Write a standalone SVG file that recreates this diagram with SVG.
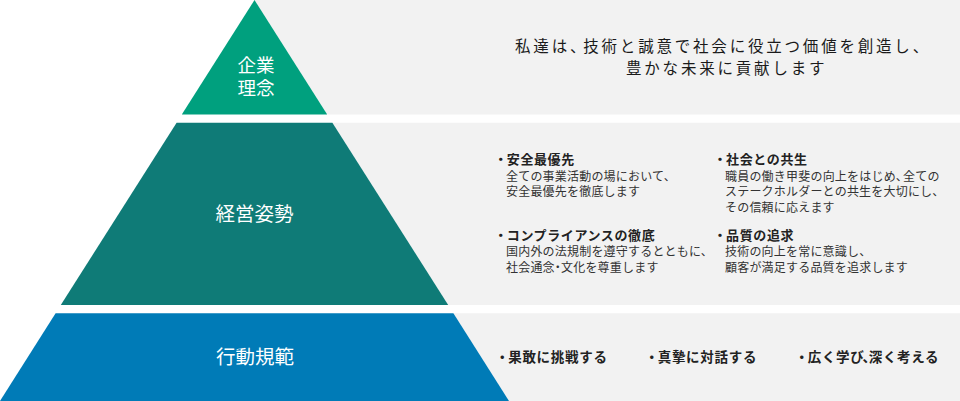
<svg xmlns="http://www.w3.org/2000/svg" width="960" height="401" viewBox="0 0 960 401">
<style>
text{font-family:"Noto Sans CJK JP","Noto Sans",sans-serif;}
.band{fill:#f2f2f2;}
.lbl{fill:#ffffff;font-size:19.5px;text-anchor:middle;}
.lbl2{fill:#ffffff;font-size:18.5px;text-anchor:middle;}
.lead{fill:#1a1a1a;font-size:15.5px;letter-spacing:2.8px;}
.hd{fill:#222222;font-size:13px;font-weight:700;letter-spacing:0.6px;}
.bd{fill:#333333;font-size:12px;letter-spacing:0.2px;}
.act{fill:#222222;font-size:13.5px;font-weight:700;letter-spacing:0.7px;}
</style>
<rect width="960" height="401" fill="#ffffff"/>
<g id="bands">
<polygon class="band" points="254.5,0 960,0 960,114.5 327.2,114.5"/>
<polygon class="band" points="332.4,122.7 960,122.7 960,305 448.2,305"/>
<polygon class="band" points="453.4,313.3 960,313.3 960,401 509,401"/>
</g>
<g id="node-rinen">
<polygon points="254.5,0 327.2,114.5 181.8,114.5" fill="#00a07e"/>
<text class="lbl2" x="256" y="72">企業</text>
<text class="lbl2" x="256" y="94.5">理念</text>
<text class="lead" x="515" y="51.5" dx="0 0 0 0 -5">私達は、技術と誠意で社会に役立つ価値を創造し、</text>
<text class="lead" x="626" y="73.5">豊かな未来に貢献します</text>
</g>
<g id="node-shisei">
<polygon points="176.6,122.7 332.4,122.7 448.2,305 60.8,305" fill="#0f7b77"/>
<text class="lbl" x="254.5" y="220.5">経営姿勢</text>
<text class="hd" x="494.2" y="163.5" dx="0 -1">・安全最優先</text>
<text class="bd" x="506" y="180.5">全ての事業活動の場において、</text>
<text class="bd" x="506" y="196">安全最優先を徹底します</text>
<text class="hd" x="713.5" y="163.5" dx="0 -1">・社会との共生</text>
<text class="bd" x="725" y="180.5" dx="0 0 0 0 0 0 0 0 0 0 0 0 0 0 0 -5">職員の働き甲斐の向上をはじめ、全ての</text>
<text class="bd" x="725" y="196">ステークホルダーとの共生を大切にし、</text>
<text class="bd" x="725" y="211.5">その信頼に応えます</text>
<text class="hd" x="494.2" y="240" dx="0 -1">・コンプライアンスの徹底</text>
<text class="bd" x="506" y="256">国内外の法規制を遵守するとともに、</text>
<text class="bd" x="506" y="271.5" dx="0 0 0 0 -3 -3">社会通念・文化を尊重します</text>
<text class="hd" x="713.5" y="240" dx="0 -1">・品質の追求</text>
<text class="bd" x="725" y="256">技術の向上を常に意識し、</text>
<text class="bd" x="725" y="271.5">顧客が満足する品質を追求します</text>
</g>
<g id="node-kihan">
<polygon points="55.6,313.3 453.4,313.3 509,401 0,401" fill="#007bb7"/>
<text class="lbl" x="255" y="363.5">行動規範</text>
<text class="act" x="495.5" y="361.5" dx="0 -1.5">・果敢に挑戦する</text>
<text class="act" x="645" y="361.5" dx="0 -1.5">・真摯に対話する</text>
<text class="act" x="795" y="361.5" dx="0 -1.5 0 0 0 -2 -8">・広く学び、深く考える</text>
</g>
<g id="connectors"></g>
</svg>
